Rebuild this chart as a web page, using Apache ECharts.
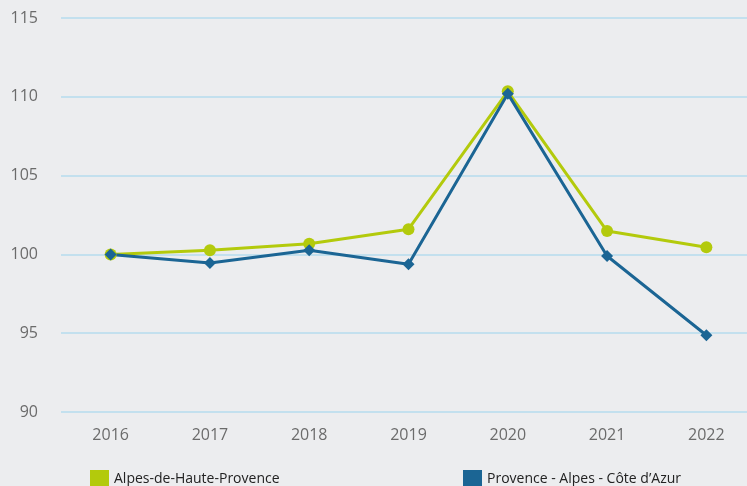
<!DOCTYPE html>
<html>
<head>
<meta charset="utf-8">
<script src="https://cdn.jsdelivr.net/npm/echarts@6/dist/echarts.min.js"></script>
<style>
  html, body { margin: 0; padding: 0; background: #ecedef; }
  #chart { width: 747px; height: 486px; }
</style>
</head>
<body>
<div id="chart"></div>
<script>
// Index values, base 100 in 2016
const years = ['2016', '2017', '2018', '2019', '2020', '2021', '2022'];
const alpesHauteProvence = [100.0, 100.27, 100.68, 101.6, 110.35, 101.48, 100.46];
const paca = [100.0, 99.45, 100.27, 99.38, 110.2, 99.9, 94.87];
const seriesNames = ['Alpes-de-Haute-Provence', 'Provence - Alpes - Côte d\u2019Azur'];

const GREEN = '#b3ca0c';
const BLUE = '#1b6594';

const chart = echarts.init(document.getElementById('chart'), null, { renderer: 'canvas' });

const legendText = { color: '#222', fontFamily: 'Open Sans', fontSize: 14, padding: [0, 0, 3, 0] };

chart.setOption({
  backgroundColor: '#ecedef',
  animation: false,
  // plot area runs a little past the right edge of the canvas
  grid: { left: 61, width: 695, top: 18, bottom: 74, outerBoundsMode: 'none', containLabel: false },
  legend: [
    {
      data: [{ name: seriesNames[0], icon: 'rect' }],
      left: 90, top: 470, padding: 0, itemWidth: 19, itemHeight: 18,
      textStyle: legendText
    },
    {
      data: [{ name: seriesNames[1], icon: 'rect' }],
      left: 463, top: 470, padding: 0, itemWidth: 19, itemHeight: 18,
      textStyle: legendText
    }
  ],
  xAxis: {
    type: 'category',
    data: years,
    boundaryGap: true,
    axisLine: { show: false },
    axisTick: { show: false },
    axisLabel: { color: '#6b6b6b', fontFamily: 'Open Sans', fontSize: 16, margin: 15 }
  },
  yAxis: {
    type: 'value',
    min: 90, max: 115, interval: 5,
    axisLine: { show: false },
    axisTick: { show: false },
    axisLabel: { color: '#6b6b6b', fontFamily: 'Open Sans', fontSize: 16, margin: 23 },
    splitLine: { lineStyle: { color: '#b6dbee', width: 1.5 } }
  },
  series: [
    {
      name: seriesNames[0],
      type: 'line',
      data: alpesHauteProvence,
      symbol: 'circle',
      symbolSize: 12,
      lineStyle: { color: GREEN, width: 3 },
      itemStyle: { color: GREEN }
    },
    {
      name: seriesNames[1],
      type: 'line',
      data: paca,
      symbol: 'diamond',
      symbolSize: 12,
      lineStyle: { color: BLUE, width: 3 },
      itemStyle: { color: BLUE }
    }
  ]
});
</script>
</body>
</html>
